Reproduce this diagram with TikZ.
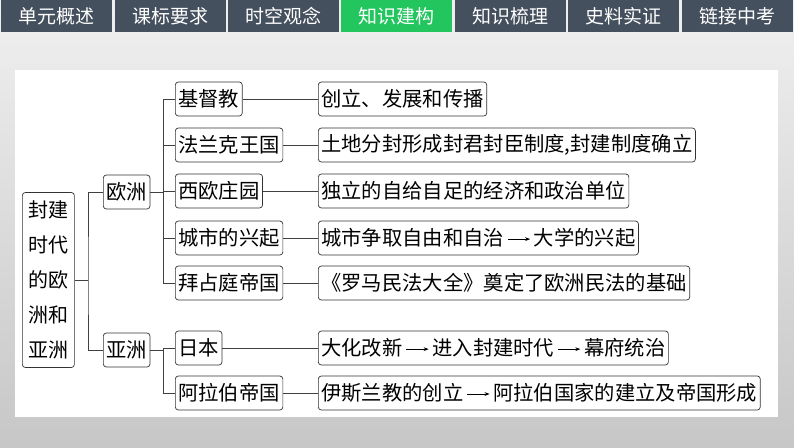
\documentclass[tikz,border=0pt]{standalone}
\usepackage{fontspec}
\setmainfont{Noto Sans CJK SC}
\usetikzlibrary{arrows.meta}
\newcommand{\arr}{\,\tikz[baseline=-0.6ex]\draw[-{Stealth[length=5pt]},line width=0.8pt] (0,0)--(1.1em,0);\,}
\begin{document}
\begin{tikzpicture}[x=1pt,y=-1pt,
  bx/.style={draw=black!80,rounded corners=3pt,line width=0.7pt,inner xsep=3pt,inner ysep=1pt,font=\fontsize{20.3}{22}\selectfont,minimum height=34pt,anchor=west},
  tab/.style={fill=tabgray,text=white,minimum width=111pt,minimum height=32pt,inner sep=0pt,font=\fontsize{19}{22}\selectfont},
  ln/.style={draw=black!75,line width=0.7pt}]
\definecolor{tabgray}{HTML}{45505E}
\definecolor{tabgreen}{HTML}{22C55E}
\useasboundingbox (0,0) rectangle (794,447);
\shade[top color=black!6,bottom color=black!22] (0,0) rectangle (794,447);
\fill[white] (15,70) rectangle (778,417);
\foreach \t [count=\i] in {单元概述,课标要求,时空观念,知识建构,知识梳理,史料实证,链接中考}{
  \node[tab] (t\i) at ({(\i-0.5)*113.4},16) {\t};}
\node[tab,fill=tabgreen] at (t4) {知识建构};
\node[bx,minimum height=175pt,minimum width=52pt,align=center,inner xsep=0pt,font=\fontsize{20}{35}\selectfont] (r) at (22,280) {封建\\时代\\的欧\\洲和\\亚洲};
\node[bx] (eu) at (103,192) {欧洲};
\node[bx] (as) at (103,350) {亚洲};
\node[bx] (a1) at (175,99) {基督教};
\node[bx] (a2) at (175,145) {法兰克王国};
\node[bx] (a3) at (175,191) {西欧庄园};
\node[bx] (a4) at (175,238) {城市的兴起};
\node[bx] (a5) at (175,283) {拜占庭帝国};
\node[bx] (a6) at (175,348) {日本};
\node[bx] (a7) at (175,393) {阿拉伯帝国};
\node[bx] (b1) at (318,99) {创立、发展和传播};
\node[bx] (b2) at (318,145) {土地分封形成封君封臣制度,封建制度确立};
\node[bx] (b3) at (318,191) {独立的自给自足的经济和政治单位};
\node[bx] (b4) at (318,238) {城市争取自由和自治\arr 大学的兴起};
\node[bx] (b5) at (318,283) {《罗马民法大全》奠定了欧洲民法的基础};
\node[bx] (b6) at (318,348) {大化改新\arr 进入封建时代\arr 幕府统治};
\node[bx] (b7) at (318,393) {伊斯兰教的创立\arr 阿拉伯国家的建立及帝国形成};
\coordinate (j0) at (88,280);
\draw[ln] (r.east) -- (j0);
\draw[ln] (eu.west) -| (j0) |- (as.west);
\foreach \k in {1,...,5}{\draw[ln] (eu.east) -- (163,192) |- (a\k.west);}
\foreach \k in {6,7}{\draw[ln] (as.east) -- (163,350) |- (a\k.west);}
\foreach \k in {1,...,7}{\draw[ln] (a\k.east) -- (b\k.west);}
\end{tikzpicture}
\end{document}
